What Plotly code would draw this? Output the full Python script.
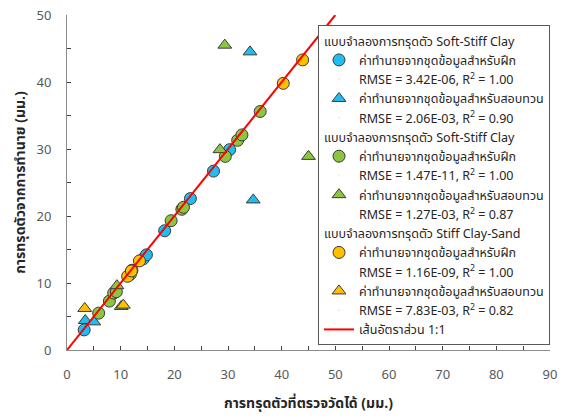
import plotly.graph_objects as go

# Model 1: Soft-Stiff Clay (blue)
m1_train_x = [3.2, 14.2, 14.8, 18.2, 23.0, 27.3, 30.3]
m1_train_y = [3.0, 13.6, 14.2, 17.8, 22.6, 26.7, 29.9]
m1_test_x = [3.4, 5.0, 34.1, 34.7]
m1_test_y = [4.4, 4.2, 44.5, 22.4]

# Model 2: Soft-Stiff Clay (green)
m2_train_x = [5.9, 7.9, 8.7, 9.2, 11.8, 12.1, 19.4, 21.4, 21.7, 29.5, 31.8, 32.6, 36.0]
m2_train_y = [5.5, 7.3, 8.5, 8.7, 11.3, 11.9, 19.3, 21.0, 21.3, 28.9, 31.3, 32.1, 35.6]
m2_test_x = [9.3, 10.1, 29.4, 28.5, 45.0]
m2_test_y = [9.6, 6.5, 45.5, 29.9, 28.9]

# Model 3: Stiff Clay-Sand (orange)
m3_train_x = [11.3, 12.0, 13.5, 40.3, 43.9]
m3_train_y = [11.0, 11.8, 13.3, 39.8, 43.3]
m3_test_x = [3.3, 10.5]
m3_test_y = [6.2, 6.7]

line_x = [0, 50]
line_y = [0, 50]

group_titles = ["แบบจำลองการทรุดตัว Soft-Stiff Clay",
                "แบบจำลองการทรุดตัว Soft-Stiff Clay",
                "แบบจำลองการทรุดตัว Stiff Clay-Sand"]
train_label = "ค่าทำนายจากชุดข้อมูลสำหรับฝึก"
test_label = "ค่าทำนายจากชุดข้อมูลสำหรับสอบทวน"
rmse_vals = ["3.42E-06", "2.06E-03", "1.47E-11", "1.27E-03", "1.16E-09", "7.83E-03"]
r2_vals = ["1.00", "0.90", "1.00", "0.87", "1.00", "0.82"]
line_label = "เส้นอัตราส่วน 1:1"

FONT = "Tahoma, Leelawadee UI, Noto Sans Thai, Noto Sans, DejaVu Sans, sans-serif"
colors = ["#1FBDF2", "#8CC63F", "#FFC000"]
outline = dict(color="#3A3A3A", width=1)

fig = go.Figure()

series = [(m1_train_x, m1_train_y, m1_test_x, m1_test_y),
          (m2_train_x, m2_train_y, m2_test_x, m2_test_y),
          (m3_train_x, m3_train_y, m3_test_x, m3_test_y)]


def stat_entry(i, g):
    # legend-only text row (no symbol) for the RMSE / R² line
    return go.Scatter(x=[None], y=[None], mode="markers", legendgroup=f"g{g}",
                      name=f"RMSE = {rmse_vals[i]}, R<sup>2</sup> = {r2_vals[i]}",
                      marker=dict(opacity=0, size=1), hoverinfo="skip")


for g, (tx, ty, vx, vy) in enumerate(series):
    fig.add_trace(go.Scatter(x=tx, y=ty, mode="markers", name=train_label,
                             legendgroup=f"g{g}",
                             legendgrouptitle=dict(text=group_titles[g]),
                             marker=dict(symbol="circle", size=12, color=colors[g], line=outline)))
    fig.add_trace(stat_entry(2 * g, g))
    fig.add_trace(go.Scatter(x=vx, y=vy, mode="markers", name=test_label,
                             legendgroup=f"g{g}",
                             marker=dict(symbol="triangle-up", size=12, color=colors[g], line=outline)))
    fig.add_trace(stat_entry(2 * g + 1, g))

fig.add_trace(go.Scatter(x=line_x, y=line_y, mode="lines", name=line_label,
                         legendgroup="g3", line=dict(color="#FF0000", width=2)))

axis_common = dict(showline=True, linecolor="#8C8C8C", linewidth=1, showgrid=False, zeroline=False,
                   ticks="inside", ticklen=4, tickcolor="#404040", automargin=False,
                   tickfont=dict(family=FONT, size=13, color="#595959"),
                   title_font=dict(family=FONT, size=14, color="#262626"))

fig.update_xaxes(range=[0, 90], tickvals=list(range(0, 91, 10)),
                 minor=dict(dtick=5, ticks="inside", ticklen=4, tickcolor="#404040"),
                 ticklabelstandoff=12,
                 title_text="<b>การทรุดตัวที่ตรวจวัดได้ (มม.)</b>", title_standoff=14, **axis_common)
fig.update_yaxes(range=[0, 50], tickvals=list(range(0, 51, 10)),
                 minor=dict(dtick=5, ticks="inside", ticklen=4, tickcolor="#404040"),
                 ticklabelstandoff=12,
                 title_text="<b>การทรุดตัวจากการทำนาย (มม.)</b>", title_standoff=7, **axis_common)

fig.update_layout(
    width=561, height=418,
    margin=dict(l=67, r=11, t=15, b=68),
    plot_bgcolor="white", paper_bgcolor="white",
    font=dict(family=FONT, size=12.5, color="#262626"),
    showlegend=True,
    legend=dict(x=1.0, y=0.97, xanchor="right", yanchor="top",
                bgcolor="white", bordercolor="#595959", borderwidth=1,
                font=dict(family=FONT, size=12.5, color="#262626"),
                grouptitlefont=dict(family=FONT, size=12.5, color="#262626"),
                tracegroupgap=0, itemwidth=30),
)

fig.write_html("out.html", config={"displayModeBar": False},
               post_script="document.body.style.margin='0';document.body.style.overflow='hidden';")
